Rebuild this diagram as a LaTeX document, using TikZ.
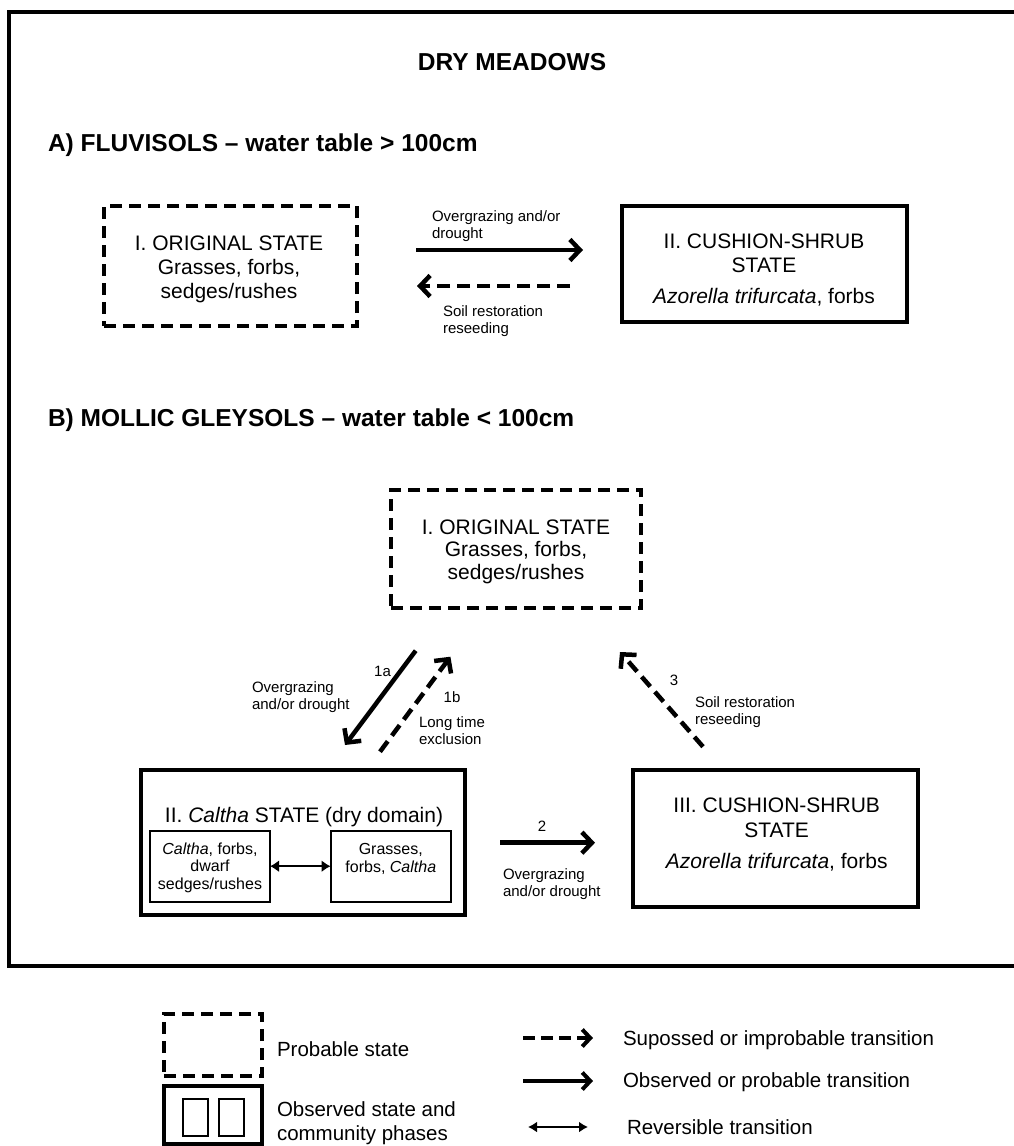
\documentclass[tikz,border=0pt]{standalone}
\usepackage{fontspec}
\setmainfont{Liberation Sans}
\usetikzlibrary{arrows.meta}
\begin{document}
\begin{tikzpicture}[x=1pt,y=-1pt,
  every node/.style={inner sep=0pt, outer sep=0pt},
  statebox/.style={draw, line width=4pt, rectangle},
  probbox/.style={statebox, dash pattern=on 12pt off 7pt},
  phasebox/.style={draw, line width=2.2pt, rectangle},
  stxt/.style={font=\fontsize{21}{24}\selectfont, align=center},
  ptxt/.style={font=\fontsize{16}{17.5}\selectfont, align=center},
  lbl/.style={font=\fontsize{15}{17}\selectfont, align=left, anchor=west},
  num/.style={font=\fontsize{15}{17}\selectfont},
  ttl/.style={font=\fontsize{24.5}{28}\selectfont\bfseries},
  legtxt/.style={font=\fontsize{20.5}{24}\selectfont, align=left, anchor=west},
  trans/.style={line width=4.5pt, -{Straight Barb[length=10pt,width=21pt]}},
  suptrans/.style={trans, dash pattern=on 13pt off 7pt},
  revtrans/.style={line width=2.5pt, {Latex[length=9pt,width=12pt]}-{Latex[length=9pt,width=12pt]}},
]
\useasboundingbox (0,0) rectangle (1014,1146);
\clip (0,0) rectangle (1014,1146);
\fill[white] (0,0) rectangle (1014,1146);
% frame
\draw[line width=4.5pt] (1030,12) -- (9,12) -- (9,966) -- (1030,966);

% titles
\node[ttl] (title) at (512,62) {DRY MEADOWS};
\node[ttl, anchor=west] (ttlA) at (48,145) {A) FLUVISOLS -- water table > 100cm};
\node[ttl, anchor=west] (ttlB) at (48,420) {B) MOLLIC GLEYSOLS -- water table < 100cm};

% ---- A ----
\node[probbox, minimum width=253pt, minimum height=120pt] (aI) at (230.5,266) {};
\node[stxt] (aIt) at (229,269) {I. ORIGINAL STATE\\Grasses, forbs,\\sedges/rushes};
\node[statebox, minimum width=285pt, minimum height=116pt] (aII) at (764.5,264) {};
\node[stxt] (aIIt) at (764,270) {II. CUSHION-SHRUB\\STATE\\[7pt]\textit{Azorella trifurcata}, forbs};

\coordinate (a1s) at (416,250);
\coordinate (a1e) at (583,250);
\coordinate (a2s) at (570,286);
\coordinate (a2e) at (417,286);
\draw[trans] (a1s) -- (a1e);
\draw[suptrans] (a2s) -- (a2e);
\node[lbl] (la1) at (432,226) {Overgrazing and/or\\drought};
\node[lbl] (la2) at (443,321.5) {Soil restoration\\reseeding};

% ---- B ----
\node[probbox, minimum width=250pt, minimum height=118pt] (bI) at (516,549) {};
\node[stxt, font=\fontsize{21}{22.5}\selectfont] (bIt) at (516,551.5) {I. ORIGINAL STATE\\Grasses, forbs,\\sedges/rushes};

\node[statebox, minimum width=323.5pt, minimum height=145pt] (bII) at (302.75,842.5) {};
\node[stxt, anchor=base] (bIIt) at (304,822.5) {II. \textit{Caltha} STATE (dry domain)};
\node[phasebox, minimum width=120pt, minimum height=71pt] (p1) at (210,866.2) {};
\node[ptxt] (p1t) at (210,867.5) {\textit{Caltha}, forbs,\\dwarf\\sedges/rushes};
\node[phasebox, minimum width=120.4pt, minimum height=71pt] (p2) at (390.8,866.2) {};
\node[ptxt] (p2t) at (390.8,859) {Grasses,\\forbs, \textit{Caltha}};
\draw[revtrans] (p1.east) -- (p2.west);

\node[statebox, minimum width=285pt, minimum height=137pt] (bIII) at (775.5,838.5) {};
\node[stxt, font=\fontsize{21}{25}\selectfont] (bIIIt) at (776.7,834.5) {III. CUSHION-SHRUB\\STATE\\[6pt]\textit{Azorella trifurcata}, forbs};

% transitions
\coordinate (t1as) at (415.7,650.7);
\coordinate (t1ae) at (345,745);
\coordinate (t1bs) at (380,751.7);
\coordinate (t1be) at (450.4,656.7);
\coordinate (t3s) at (703,746.7);
\coordinate (t3e) at (620,652);
\coordinate (t2s) at (500,842.7);
\coordinate (t2e) at (595,842.7);
\draw[trans] (t1as) -- (t1ae);
\draw[suptrans] (t1bs) -- (t1be);
\draw[suptrans] (t3s) -- (t3e);
\draw[trans] (t2s) -- (t2e);

\node[num] (n1a) at (382.5,671.7) {1a};
\node[lbl] (lb1) at (252,697) {Overgrazing\\and/or drought};
\node[num] (n1b) at (452,697) {1b};
\node[lbl] (lb2) at (419,731) {Long time\\exclusion};
\node[num] (n3) at (674,680.7) {3};
\node[lbl] (lb3) at (695,712.5) {Soil restoration\\reseeding};
\node[num] (n2) at (542,826.7) {2};
\node[lbl] (lb4) at (503,884) {Overgrazing\\and/or drought};

% ---- legend ----
\node[probbox, minimum width=98pt, minimum height=62pt] (lgP) at (213,1045) {};
\node[legtxt] (lgPt) at (277,1049) {Probable state};
\node[statebox, minimum width=98pt, minimum height=58pt] (lgO) at (213,1115) {};
\node[draw, line width=1.5pt, minimum width=25pt, minimum height=37pt] (lgO1) at (195.5,1117.5) {};
\node[draw, line width=1.5pt, minimum width=25pt, minimum height=37pt] (lgO2) at (231.5,1117.5) {};
\node[legtxt] (lgOt) at (277,1123) {Observed state and\\community phases};

\coordinate (l1s) at (523,1038);
\coordinate (l1e) at (593,1038);
\coordinate (l2s) at (523,1081);
\coordinate (l2e) at (593,1081);
\coordinate (l3s) at (528,1127);
\coordinate (l3e) at (588,1127);
\draw[suptrans, line width=4pt, -{Straight Barb[length=8pt,width=17pt]}, dash pattern=on 12pt off 6pt] (l1s) -- (l1e);
\draw[trans, line width=4pt, -{Straight Barb[length=8pt,width=17pt]}] (l2s) -- (l2e);
\draw[line width=2.5pt, {Latex[length=9pt,width=11pt]}-{Latex[length=9pt,width=11pt]}] (l3s) -- (l3e);
\node[legtxt] (lg1) at (623,1040) {Supossed or improbable transition};
\node[legtxt] (lg2) at (623,1082) {Observed or probable transition};
\node[legtxt] (lg3) at (627,1127) {Reversible transition};
\end{tikzpicture}
\end{document}
